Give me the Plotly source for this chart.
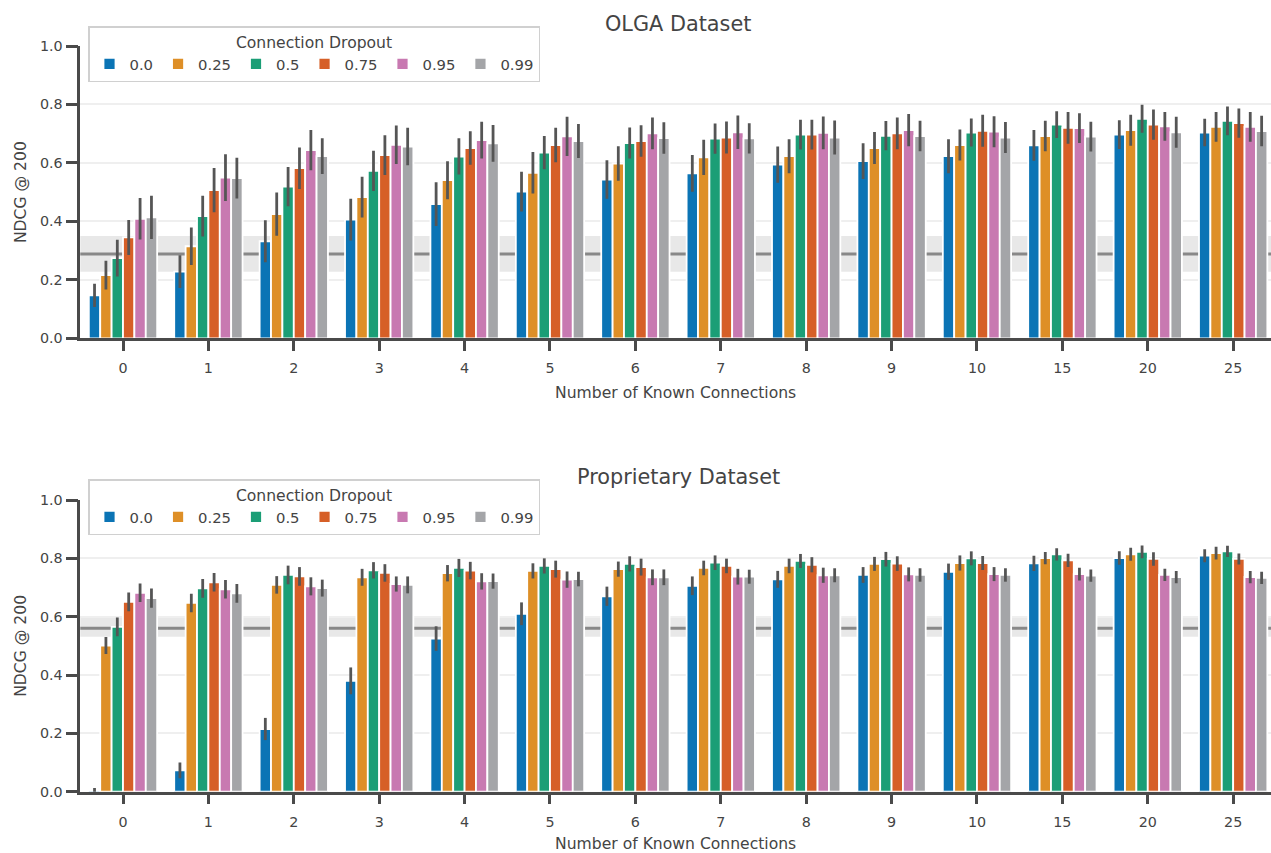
import plotly.graph_objects as go

# Known-connection counts (x categories) and dropout rates (series)
known_connections = ["0", "1", "2", "3", "4", "5", "6", "7", "8", "9", "10", "15", "20", "25"]
dropout_rates = ["0.0", "0.25", "0.5", "0.75", "0.95", "0.99"]
palette = ["#0b74b5", "#de8f27", "#1b9e76", "#d65f27", "#c879b1", "#a4a5a8"]

# OLGA dataset: mean NDCG@200 per dropout rate
olga_d000 = [0.147, 0.228, 0.332, 0.406, 0.459, 0.502, 0.543, 0.564, 0.594, 0.606, 0.623, 0.660, 0.697, 0.704]
olga_d025 = [0.216, 0.315, 0.425, 0.483, 0.541, 0.566, 0.598, 0.619, 0.623, 0.651, 0.661, 0.692, 0.712, 0.723]
olga_d050 = [0.274, 0.418, 0.519, 0.573, 0.622, 0.635, 0.668, 0.683, 0.697, 0.693, 0.704, 0.731, 0.751, 0.744]
olga_d075 = [0.345, 0.507, 0.582, 0.627, 0.651, 0.661, 0.675, 0.687, 0.697, 0.701, 0.710, 0.720, 0.731, 0.736]
olga_d095 = [0.409, 0.550, 0.644, 0.662, 0.678, 0.691, 0.701, 0.705, 0.703, 0.712, 0.707, 0.719, 0.725, 0.723]
olga_d099 = [0.414, 0.548, 0.623, 0.656, 0.667, 0.675, 0.685, 0.684, 0.687, 0.692, 0.687, 0.690, 0.705, 0.709]

# OLGA dataset: confidence-interval half widths
olga_e000 = [0.040, 0.056, 0.072, 0.071, 0.075, 0.068, 0.066, 0.063, 0.062, 0.061, 0.058, 0.053, 0.049, 0.047]
olga_e025 = [0.049, 0.064, 0.074, 0.070, 0.065, 0.071, 0.059, 0.060, 0.058, 0.055, 0.053, 0.052, 0.053, 0.051]
olga_e050 = [0.063, 0.070, 0.067, 0.069, 0.062, 0.057, 0.053, 0.052, 0.051, 0.050, 0.048, 0.046, 0.048, 0.049]
olga_e075 = [0.060, 0.076, 0.071, 0.068, 0.057, 0.059, 0.054, 0.055, 0.051, 0.054, 0.055, 0.054, 0.052, 0.050]
olga_e095 = [0.071, 0.080, 0.069, 0.066, 0.063, 0.067, 0.054, 0.057, 0.056, 0.055, 0.053, 0.051, 0.049, 0.051]
olga_e099 = [0.074, 0.070, 0.061, 0.064, 0.063, 0.058, 0.054, 0.052, 0.058, 0.052, 0.053, 0.051, 0.053, 0.052]

# Proprietary dataset: mean NDCG@200 per dropout rate
prop_d000 = [0.005, 0.073, 0.215, 0.380, 0.525, 0.610, 0.670, 0.706, 0.728, 0.743, 0.754, 0.783, 0.801, 0.809]
prop_d025 = [0.501, 0.647, 0.709, 0.735, 0.749, 0.757, 0.763, 0.767, 0.774, 0.781, 0.784, 0.801, 0.814, 0.818]
prop_d050 = [0.565, 0.697, 0.743, 0.759, 0.767, 0.774, 0.781, 0.785, 0.791, 0.797, 0.800, 0.814, 0.822, 0.824]
prop_d075 = [0.651, 0.718, 0.738, 0.750, 0.758, 0.763, 0.770, 0.774, 0.778, 0.782, 0.784, 0.793, 0.798, 0.798]
prop_d095 = [0.682, 0.694, 0.704, 0.712, 0.721, 0.727, 0.735, 0.737, 0.742, 0.745, 0.746, 0.746, 0.743, 0.736]
prop_d099 = [0.664, 0.680, 0.698, 0.709, 0.722, 0.729, 0.735, 0.737, 0.742, 0.743, 0.743, 0.741, 0.736, 0.733]

# Proprietary dataset: confidence-interval half widths
prop_e000 = [0.008, 0.027, 0.038, 0.046, 0.042, 0.039, 0.033, 0.032, 0.029, 0.027, 0.028, 0.026, 0.023, 0.022]
prop_e025 = [0.029, 0.032, 0.030, 0.029, 0.028, 0.026, 0.026, 0.025, 0.025, 0.024, 0.026, 0.021, 0.022, 0.022]
prop_e050 = [0.032, 0.032, 0.032, 0.028, 0.031, 0.026, 0.026, 0.025, 0.024, 0.025, 0.024, 0.021, 0.022, 0.019]
prop_e075 = [0.032, 0.032, 0.032, 0.030, 0.030, 0.029, 0.029, 0.025, 0.026, 0.025, 0.024, 0.023, 0.023, 0.019]
prop_e095 = [0.032, 0.032, 0.031, 0.026, 0.028, 0.028, 0.027, 0.027, 0.026, 0.024, 0.024, 0.022, 0.021, 0.021]
prop_e099 = [0.033, 0.032, 0.029, 0.029, 0.026, 0.025, 0.027, 0.024, 0.024, 0.023, 0.023, 0.021, 0.021, 0.021]

# Popularity baseline (mean and CI band) per dataset
olga_baseline = 0.288
olga_baseline_band = [0.228, 0.350]
prop_baseline = 0.560
prop_baseline_band = [0.531, 0.600]

olga_means = [olga_d000, olga_d025, olga_d050, olga_d075, olga_d095, olga_d099]
olga_errs = [olga_e000, olga_e025, olga_e050, olga_e075, olga_e095, olga_e099]
prop_means = [prop_d000, prop_d025, prop_d050, prop_d075, prop_d095, prop_d099]
prop_errs = [prop_e000, prop_e025, prop_e050, prop_e075, prop_e095, prop_e099]

W, H = 1271, 853
FONT = "DejaVu Sans"
INK = "#4a4a4a"
TXT = "#444444"

fig = go.Figure()

panels = [
    ("x", "y", "legend", olga_means, olga_errs),
    ("x2", "y2", "legend2", prop_means, prop_errs),
]
for xa, ya, leg, means, errs in panels:
    for name, color, m, e in zip(dropout_rates, palette, means, errs):
        fig.add_trace(go.Bar(
            x=known_connections, y=m, name=name, xaxis=xa, yaxis=ya, legend=leg,
            marker=dict(color=color, line=dict(color="white", width=1.8)),
            error_y=dict(type="data", array=e, color="#555555", thickness=2.8, width=0),
        ))

# Baseline band and line behind the bars
for xa, ya, mean, band in [("x", "y", olga_baseline, olga_baseline_band),
                            ("x2", "y2", prop_baseline, prop_baseline_band)]:
    fig.add_shape(type="rect", xref=f"{xa} domain", yref=ya, x0=0, x1=1,
                  y0=band[0], y1=band[1], fillcolor="#e8e8e8", line_width=0, layer="below")
    fig.add_shape(type="line", xref=f"{xa} domain", yref=ya, x0=0, x1=1,
                  y0=mean, y1=mean, line=dict(color="#888888", width=3), layer="below")

x_left = 80.3 / W
x_range = [-0.5, 13.443]
top_dom = [1 - 338.3 / H, 1 - 46 / H]
bot_dom = [1 - 791.7 / H, 1 - 500 / H]

xaxis_style = dict(
    type="category", range=x_range, domain=[x_left, 1],
    showline=True, linecolor=INK, linewidth=2.5,
    ticks="outside", ticklen=10, tickwidth=2.5, tickcolor=INK,
    ticklabelstandoff=5,
    tickfont=dict(family=FONT, size=14.3, color=TXT),
    showgrid=False, zeroline=False,
    title=dict(text="Number of Known Connections", font=dict(family=FONT, size=15.6, color=TXT), standoff=12),
)
yaxis_style = dict(
    range=[0, 1.0], tickvals=[0, 0.2, 0.4, 0.6, 0.8, 1.0],
    ticktext=["0.0", "0.2", "0.4", "0.6", "0.8", "1.0"],
    showline=True, linecolor=INK, linewidth=2.5,
    ticks="outside", ticklen=12, tickwidth=2.5, tickcolor=INK,
    tickfont=dict(family=FONT, size=14.3, color=TXT),
    showgrid=True, gridcolor="#efefef", gridwidth=2, zeroline=False,
    title=dict(text="NDCG @ 200", font=dict(family=FONT, size=15.6, color=TXT), standoff=10),
)

legend_style = dict(
    orientation="h", xanchor="left", yanchor="top",
    bgcolor="rgba(255,255,255,0.85)", bordercolor="#d0d0d0", borderwidth=1.5,
    font=dict(family=FONT, size=14.8, color=TXT),
    title=dict(text="Connection Dropout", side="top center", font=dict(family=FONT, size=15.6, color=TXT)),
    itemclick=False, tracegroupgap=0,
)

fig.update_layout(
    width=W, height=H, margin=dict(l=0, r=0, t=0, b=0, autoexpand=False),
    paper_bgcolor="white", plot_bgcolor="white",
    barmode="group", bargap=0.2, bargroupgap=0,
    xaxis=dict(**xaxis_style, anchor="y"),
    yaxis=dict(**yaxis_style, domain=top_dom, anchor="x"),
    xaxis2=dict(**xaxis_style, anchor="y2"),
    yaxis2=dict(**yaxis_style, domain=bot_dom, anchor="x2"),
    legend=dict(**legend_style, x=88 / W, y=1 - 26 / H),
    legend2=dict(**legend_style, x=88 / W, y=1 - 479 / H),
    annotations=[
        dict(text="OLGA Dataset", x=678 / W, y=1 - 24 / H, xref="paper", yref="paper",
             showarrow=False, font=dict(family=FONT, size=20.8, color=TXT), xanchor="center", yanchor="middle"),
        dict(text="Proprietary Dataset", x=678 / W, y=1 - 477 / H, xref="paper", yref="paper",
             showarrow=False, font=dict(family=FONT, size=20.8, color=TXT), xanchor="center", yanchor="middle"),
    ],
    showlegend=True,
)

fig.write_html("out.html")
